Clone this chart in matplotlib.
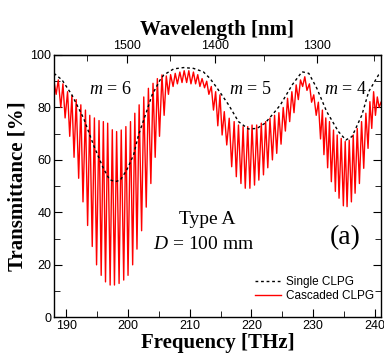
import numpy as np
import matplotlib
matplotlib.use("Agg")
import matplotlib.pyplot as plt
from matplotlib.ticker import MultipleLocator, FixedLocator

# single CLPG (dashed)
single_f = [188.0, 189.3, 190.9, 192.8, 194.4, 196.0, 197.0, 197.9, 198.75, 199.8,
            200.9, 201.7, 202.8, 203.9, 205.2, 205.8, 207.4, 209.0, 210.6, 212.2,
            213.3, 214.4, 216.3, 217.9, 219.5, 220.9, 222.2, 223.6, 224.7, 226.6,
            228.2, 229.3, 230.6, 232.2, 234.1, 235.3, 236.3, 237.9, 239.0, 240.6, 241.0]
single_t = [93.0, 90.5, 84.8, 75.9, 65.7, 56.8, 52.5, 51.7, 52.3, 56.2,
            61.9, 69.5, 77.0, 84.8, 90.5, 92.4, 94.7, 95.2, 94.9, 93.6,
            91.0, 87.5, 81.0, 74.6, 71.8, 72.0, 74.0, 77.8, 81.0, 88.6,
            93.6, 93.0, 87.3, 78.4, 70.8, 67.6, 68.9, 77.1, 86.0, 92.4, 93.0]

# cascaded CLPG fringes: troughs and peaks
trough_f = [188.35, 189.1, 189.8, 190.55, 191.25, 192.0, 192.7, 193.45, 194.2, 194.9,
            195.65, 196.35, 197.1, 197.8, 198.55, 199.3, 200.0, 200.75, 201.45, 202.2,
            202.95, 203.7, 204.4, 205.1, 205.85, 206.55, 207.3, 208.0, 208.75, 209.5,
            210.2, 210.95, 211.65, 212.4, 213.1, 213.85, 214.55, 215.25, 216.0, 216.8,
            217.55, 218.3, 219.0, 219.75, 220.5, 221.2, 221.95, 222.65, 223.4, 224.1,
            224.8, 225.5, 226.2, 226.9, 227.6, 228.3, 229.0, 229.75, 230.5, 231.2,
            231.75, 232.35, 232.95, 233.6, 234.2, 234.9, 235.5, 236.2, 236.8, 237.5,
            238.2, 238.9, 239.5, 240.1, 240.7]
trough_t = [85, 80, 76, 69, 61, 53, 44, 35, 27, 20,
            16, 13.5, 12.3, 12.3, 12.9, 14.2, 16, 20, 26, 33,
            42, 51, 61, 69, 77, 85, 88, 89, 89.5, 89.5,
            89, 89, 88, 87.5, 85, 79, 73, 69.5, 65.7, 57.4,
            53.6, 51, 49.2, 49.2, 50.4, 52.3, 54.3, 57, 60, 62.5,
            66, 71, 74.6, 78, 83, 88, 86.5, 82, 77, 68,
            62, 57, 51.7, 48, 45.4, 42.5, 42.2, 44, 47.3, 51,
            56.8, 64.4, 72, 77, 80]
peak_f = [188.0, 188.7, 189.45, 190.2, 190.9, 191.6, 192.35, 193.1, 193.8, 194.55,
          195.3, 196.0, 196.7, 197.45, 198.15, 198.9, 199.65, 200.4, 201.1, 201.8,
          202.55, 203.3, 204.05, 204.75, 205.5, 206.2, 206.9, 207.65, 208.4, 209.1,
          209.85, 210.6, 211.3, 212.0, 212.75, 213.5, 214.2, 214.9, 215.6, 216.4,
          217.2, 217.9, 218.65, 219.4, 220.1, 220.85, 221.6, 222.3, 223.0, 223.75,
          224.45, 225.15, 225.85, 226.55, 227.25, 227.95, 228.65, 229.4, 230.1, 230.85,
          231.5, 232.05, 232.65, 233.3, 233.9, 234.55, 235.2, 235.85, 236.5, 237.15,
          237.85, 238.55, 239.2, 239.8, 240.4, 241.0]
peak_t = [90, 90.5, 89, 86, 84.5, 83, 81, 79, 77, 76,
          75, 74.6, 74, 71.5, 70.8, 71.4, 72.7, 74.6, 77.8, 81,
          84, 87.3, 89.2, 91, 92.4, 92, 92.5, 93, 93.5, 94,
          94, 93.5, 92.5, 91, 90, 88, 86, 84.8, 78.4, 75.9,
          74.6, 73.3, 72.7, 72.7, 73.3, 73.3, 74, 74.6, 75.9, 77,
          78, 80, 83.5, 86, 88.6, 90.5, 91.7, 89, 84.8, 82,
          79, 76, 74.6, 71.4, 69.5, 68.2, 67, 67.5, 69.5, 72,
          74.6, 77.8, 82.2, 86, 84, 82]

wl_major = [1500, 1400, 1300]
wl_minor = [1550, 1450, 1350, 1250]

C = 299792.458  # nm*THz

plt.rcParams['font.family'] = ['Liberation Sans', 'DejaVu Sans']
plt.rcParams['mathtext.fontset'] = 'custom'
plt.rcParams['mathtext.rm'] = 'Liberation Serif'
plt.rcParams['mathtext.it'] = 'Liberation Serif:italic'

fig = plt.figure(figsize=(3.84, 3.58), dpi=100)
ax = fig.add_axes([0.1406, 0.1137, 0.8516, 0.7327])

red_f = np.array(trough_f + peak_f)
red_t = np.array(trough_t + peak_t)
order = np.argsort(red_f)
ax.plot(single_f, single_t, color='black', lw=1.0, ls=(0, (2, 2)), label='Single CLPG', zorder=3)
ax.plot(red_f[order], red_t[order], color='#ff0000', lw=1.0, label='Cascaded CLPG', zorder=2)

ax.set_xlim(188, 241)
ax.set_ylim(0, 100)
ax.xaxis.set_major_locator(MultipleLocator(10))
ax.xaxis.set_minor_locator(MultipleLocator(5))
ax.yaxis.set_major_locator(MultipleLocator(20))
ax.yaxis.set_minor_locator(MultipleLocator(10))
ax.tick_params(which='both', direction='in', right=True, top=False, labelsize=9, pad=2)
ax.tick_params(which='major', length=6)
ax.tick_params(which='minor', length=4)
for s in ax.spines.values():
    s.set_linewidth(1.0)

sec = ax.secondary_xaxis('top', functions=(lambda f: C / np.maximum(f, 1e-9),
                                           lambda w: C / np.maximum(w, 1e-9)))
sec.xaxis.set_major_locator(FixedLocator(wl_major))
sec.xaxis.set_minor_locator(FixedLocator(wl_minor))
sec.tick_params(which='both', direction='in', labelsize=9, pad=2)
sec.tick_params(which='major', length=6)
sec.tick_params(which='minor', length=4)
sec.set_xlabel('Wavelength [nm]', family='Liberation Serif', fontweight='bold', fontsize=15, labelpad=4)

ax.set_xlabel('Frequency [THz]', family='Liberation Serif', fontweight='bold', fontsize=15, labelpad=1)
ax.set_ylabel('Transmittance [%]', family='Liberation Serif', fontweight='bold', fontsize=15, labelpad=2)

ax.text(197.1, 86.7, r'$m$ = 6', family='Liberation Serif', fontsize=13, ha='center', va='center')
ax.text(219.8, 86.7, r'$m$ = 5', family='Liberation Serif', fontsize=13, ha='center', va='center')
ax.text(235.2, 86.7, r'$m$ = 4', family='Liberation Serif', fontsize=13, ha='center', va='center')
ax.text(212.8, 37.1, 'Type A', family='Liberation Serif', fontsize=14, ha='center', va='center')
ax.text(212.2, 27.6, r'$D$ = 100 mm', family='Liberation Serif', fontsize=14, ha='center', va='center')
ax.text(235.2, 30.5, '(a)', family='Liberation Serif', fontsize=20, ha='center', va='center')

ax.legend(loc='lower right', bbox_to_anchor=(1.0, 0.03), frameon=False, fontsize=8.5,
          handlelength=2.2, handletextpad=0.4, labelspacing=0.2, borderaxespad=0.2)

fig.savefig('out.png', dpi=100)
